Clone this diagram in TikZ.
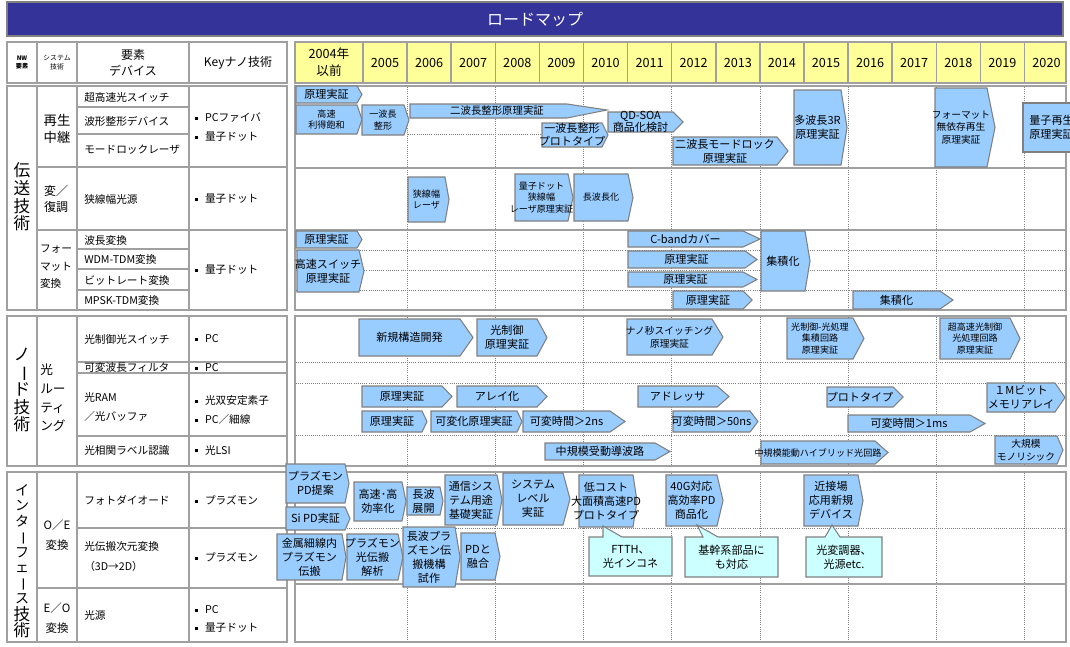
\documentclass[tikz,border=0pt]{standalone}
\usepackage{fontspec}
\setmainfont{Noto Sans CJK JP}
\definecolor{titleblue}{HTML}{333399}
\definecolor{hdryellow}{HTML}{FFFF99}
\definecolor{boxfill}{HTML}{99CCFF}
\definecolor{boxline}{HTML}{808080}
\definecolor{callfill}{HTML}{CCFFFF}
\definecolor{gridgray}{HTML}{A0A0A0}
\newcommand{\tightls}{\lineskiplimit=-20pt\relax}
\tikzset{
  abox/.style={draw=boxline, fill=boxfill, line width=0.8pt, line join=miter},
  cbox/.style={draw=boxline, fill=callfill, line width=0.8pt},
  atext/.style={font=\fontsize{8.3}{10.5}\selectfont, align=center, inner sep=0pt},
  mtext/.style={font=\fontsize{7.3}{9.5}\selectfont, align=center, inner sep=0pt},
  stext/.style={font=\fontsize{6.8}{8.6}\selectfont, align=center, inner sep=0pt},
  ltext/.style={font=\fontsize{8}{11}\selectfont, anchor=west, align=left, inner sep=0pt},
  ctext/.style={font=\fontsize{9}{12}\selectfont, align=center, inner sep=0pt},
  vtext/.style={font=\fontsize{12.5}{13.2}\selectfont\tightls, align=center, inner sep=0pt},
  tline/.style={draw=gridgray, line width=1.1pt},
  dline/.style={draw=gray, line width=0.6pt, densely dotted},
  yeartxt/.style={font=\fontsize{9.5}{12}\selectfont, align=center, inner sep=0pt},
}
\newcommand{\arbox}[8][atext]{%
  \draw[abox] (#3,#4) -- ({#5-#7},#4) -- (#5,{(#4+#6)/2}) -- ({#5-#7},#6) -- (#3,#6) -- cycle;
  \node[#1] (#2) at ({(#3+#5-#7)/2},{(#4+#6)/2}) {#8};
}
\newcommand{\callbox}[9]{%
  \draw[cbox] (#2,#3) -- (#7,#3) -- (#6) -- (#8,#3) -- (#4,#3) -- (#4,#5) -- (#2,#5) -- cycle;
  \node[atext] (#1) at ({(#2+#4)/2},{(#3+#5)/2}) {#9};
}
\newcommand{\vchoon}{\rotatebox[origin=c]{-90}{ー}}
\newcommand{\bul}{\raisebox{0.28ex}{\rule{2.3pt}{2.3pt}}\hspace{5pt}}
\begin{document}
\begin{tikzpicture}[x=0.75pt,y=-0.75pt]
\useasboundingbox (0,0) rectangle (1070,646);
\fill[white] (0,0) rectangle (1070,646);
\clip (0,0) rectangle (1070,646);

% title
\draw[fill=titleblue, draw=gray, line width=0.8pt] (7,2) rectangle (1063,36);
\node[text=white, font=\fontsize{12}{14}\selectfont] (title) at (535,19) {ロードマップ};

% ---------------- left table ----------------
\draw[tline] (7,42) rectangle (287,83);
\foreach \x in {37,77,189} \draw[tline] (\x,42) -- (\x,83);
\node[font=\fontsize{4.6}{6}\selectfont\bfseries, align=center, inner sep=0pt] (hnw) at (22,62.5) {NW\\要素};
\node[font=\fontsize{5.2}{7}\selectfont, align=center, inner sep=0pt] (hsys) at (57,62.5) {システム\\技術};
\node[ctext] (hdev) at (133,63) {要素\\デバイス};
\node[ctext] (hkey) at (238,63) {Keyナノ技術};

% section 1
\draw[tline] (7,86) rectangle (287,310);
\foreach \x in {37,77,189} \draw[tline] (\x,86) -- (\x,310);
\draw[tline] (77,107) -- (189,107);
\draw[tline] (77,134) -- (189,134);
\draw[tline] (37,167) -- (287,167);
\draw[tline] (37,230) -- (287,230);
\draw[tline] (77,249) -- (189,249);
\draw[tline] (77,269) -- (189,269);
\draw[tline] (77,290) -- (189,290);
% section 2
\draw[tline] (7,316) rectangle (287,466);
\foreach \x in {37,77,189} \draw[tline] (\x,316) -- (\x,466);
\draw[tline] (77,362) -- (287,362);
\draw[tline] (77,373) -- (287,373);
\draw[tline] (77,436) -- (287,436);
% section 3
\draw[tline] (7,472) rectangle (287,642);
\foreach \x in {37,77,189} \draw[tline] (\x,472) -- (\x,642);
\draw[tline] (77,528) -- (287,528);
\draw[tline] (37,588) -- (287,588);

% column 1 vertical titles
\node[vtext] (s1) at (22,197) {伝\\送\\技\\術};
\node[vtext] (s2) at (22,390) {ノ\\\vchoon\\ド\\技\\術};
\node[vtext, font=\fontsize{10.5}{11.55}\selectfont\tightls] (s3) at (22,544) {イ\\ン\\タ\\\vchoon\\フ\\ェ\\\vchoon\\ス};
\node[vtext, font=\fontsize{12.5}{12.4}\selectfont\tightls] (s3b) at (22,622) {技\\術};

% column 2
\node[font=\fontsize{10}{13}\selectfont, align=center, inner sep=0pt] (g1) at (57,129) {再生\\中継};
\node[font=\fontsize{9}{11.5}\selectfont, align=left, inner sep=0pt] (g2) at (56,199) {変／\\復調};
\node[font=\fontsize{8}{13}\selectfont, align=left, inner sep=0pt] (g3) at (56,267) {フォー\\マット\\変換};
\node[font=\fontsize{9.5}{14}\selectfont, align=left, inner sep=0pt, anchor=west] (g4) at (40,398) {光\\ルー\\ティ\\ング};
\node[font=\fontsize{8.6}{15}\selectfont, align=center, inner sep=0pt] (g5) at (57,535) {O／E\\変換};
\node[font=\fontsize{8.6}{15}\selectfont, align=center, inner sep=0pt] (g6) at (57,618) {E／O\\変換};

% column 3
\node[ltext] (d01) at (84,97) {超高速光スイッチ};
\node[ltext] (d02) at (84,121) {波形整形デバイス};
\node[ltext] (d03) at (84,150) {モードロックレーザ};
\node[ltext] (d04) at (84,199) {狭線幅光源};
\node[ltext] (d05) at (84,240) {波長変換};
\node[ltext] (d06) at (84,259.5) {WDM-TDM変換};
\node[ltext] (d07) at (84,280) {ビットレート変換};
\node[ltext] (d08) at (84,300) {MPSK-TDM変換};
\node[ltext] (d09) at (84,339) {光制御光スイッチ};
\node[ltext] (d10) at (84,367.5) {可変波長フィルタ};
\node[ltext, font=\fontsize{8}{14}\selectfont] (d11) at (84,407) {光RAM\\／光バッファ};
\node[ltext] (d12) at (84,450) {光相関ラベル認識};
\node[ltext] (d13) at (84,500) {フォトダイオード};
\node[ltext, font=\fontsize{8}{15}\selectfont] (d14) at (84,557) {光伝搬次元変換\\（3D→2D）};
\node[ltext] (d15) at (84,615) {光源};

% column 4
\node[ltext, font=\fontsize{8}{14}\selectfont] (k1) at (195,127) {\bul PCファイバ\\\bul 量子ドット};
\node[ltext] (k2) at (195,199) {\bul 量子ドット};
\node[ltext] (k3) at (195,270) {\bul 量子ドット};
\node[ltext] (k4) at (195,339) {\bul PC};
\node[ltext] (k5) at (195,367.5) {\bul PC};
\node[ltext, font=\fontsize{8}{14}\selectfont] (k6) at (195,410) {\bul 光双安定素子\\\bul PC／細線};
\node[ltext] (k7) at (195,450) {\bul 光LSI};
\node[ltext] (k8) at (195,500) {\bul プラズモン};
\node[ltext] (k9) at (195,557) {\bul プラズモン};
\node[ltext, font=\fontsize{8}{14}\selectfont] (k10) at (195,619) {\bul PC\\\bul 量子ドット};

% ---------------- timeline ----------------
\draw[tline, fill=hdryellow] (295,42) rectangle (1066,83);
\foreach \k in {0,...,15} \draw[tline] ({363+44.1*\k},42) -- ({363+44.1*\k},83);
\node[yeartxt, font=\fontsize{9.5}{13}\selectfont] (y2004) at (329,62.5) {2004年\\以前};
\foreach \y [count=\i from 0] in {2005,...,2020}
  \node[yeartxt] (y\y) at ({363+44.1*\i+22},62.5) {\y};

% section frames
\draw[tline] (295,86) rectangle (1066,310);
\draw[tline] (295,316) rectangle (1066,466);
\draw[tline] (295,472) rectangle (1066,642);
% grid
\foreach \k in {1,3,...,15} {
  \draw[dline] ({363+44.1*\k},87) -- ({363+44.1*\k},309);
  \draw[dline] ({363+44.1*\k},317) -- ({363+44.1*\k},465);
  \draw[dline] ({363+44.1*\k},473) -- ({363+44.1*\k},641);
}
\draw[tline] (295,168) -- (1066,168);
\draw[tline] (295,230) -- (1066,230);
\draw[dline] (408,134) -- (542,134);
\foreach \yy in {250,270,290} \draw[dline] (296,\yy) -- (1065,\yy);
\foreach \yy in {362,383,435} \draw[dline] (296,\yy) -- (1065,\yy);
\draw[dline] (296,528) -- (1065,528);
\draw[tline] (295,584) -- (1066,584);

% ---- section 1 boxes ----
\arbox{b1}{296}{86}{362}{103}{5}{原理実証}
\arbox[stext]{b2}{296}{105}{362}{134}{5}{高速\\利得飽和}
\arbox[stext]{b3}{362}{105}{409}{135}{5}{一波長\\整形}
\draw[abox] (410,104) -- (567,104) -- (607,110) -- (567,118) -- (410,118) -- cycle;
\node[atext, font=\fontsize{7.8}{9}\selectfont] (b4) at (497,111) {二波長整形原理実証};
\arbox[atext, font=\fontsize{8.3}{9}\selectfont]{b5}{608}{112}{683}{132}{10}{QD-SOA\\商品化検討}
\arbox[atext, font=\fontsize{8.3}{9.8}\selectfont]{b6}{542}{123}{608}{147}{6}{一波長整形\\プロトタイプ}
\arbox{b7}{673}{137}{788}{165}{11}{二波長モードロック\\原理実証}
\arbox{b8}{794}{90}{847}{165}{6}{多波長3R\\原理実証}
\arbox[mtext]{b9}{935}{88}{995}{167}{8}{フォーマット\\無依存再生\\原理実証}
\arbox{b10}{1023}{103}{1080}{152}{0}{量子再生\\原理実証}
\arbox[stext]{b11}{408}{177}{449}{222}{4}{狭線幅\\レーザ}
\arbox[stext]{b12}{515}{174}{573}{221}{5}{量子ドット\\狭線幅\\レーザ原理実証}
\arbox[stext]{b13}{574}{174}{633}{221}{5}{長波長化}
\arbox{b14}{296}{231}{362}{248}{5}{原理実証}
\arbox{b15}{297}{250}{364}{292}{5}{高速スイッチ\\原理実証}
\arbox{b16}{628}{231}{760}{247}{17}{C-bandカバー}
\arbox{b17}{628}{251}{757}{268}{12}{原理実証}
\arbox{b18}{628}{272}{757}{287}{14}{原理実証}
\arbox{b19}{673}{291}{752}{309}{9}{原理実証}
\arbox{b20}{761}{231}{810}{291}{5}{集積化}
\arbox{b21}{853}{291}{953}{309}{13}{集積化}

% ---- section 2 boxes ----
\arbox{c1}{359}{319}{473}{356}{13}{新規構造開発}
\arbox{c2}{477}{319}{547}{356}{10}{光制御\\原理実証}
\arbox[mtext]{c3}{627}{319}{723}{355}{11}{ナノ秒スイッチング\\原理実証}
\arbox[stext]{c4}{787}{318}{864}{359}{11}{光制御-光処理\\集積回路\\原理実証}
\arbox[stext]{c5}{940}{318}{1020}{359}{10}{超高速光制御\\光処理回路\\原理実証}
\arbox{c6}{362}{386}{452}{407}{10}{原理実証}
\arbox{c7}{457}{386}{547}{407}{10}{アレイ化}
\arbox{c8}{638}{386}{729}{407}{12}{アドレッサ}
\arbox{c9}{827}{387}{903}{407}{10}{プロトタイプ}
\arbox{c10}{987}{383}{1065}{412}{10}{１Mビット\\メモリアレイ}
\arbox{c11}{362}{411}{427}{432}{5}{原理実証}
\arbox{c12}{431}{411}{522}{432}{5}{可変化原理実証}
\arbox{c13}{523}{411}{625}{432}{15}{可変時間＞2ns}
\arbox{c14}{673}{411}{758}{432}{8}{可変時間＞50ns}
\arbox{c15}{848}{415}{985}{432}{15}{可変時間＞1ms}
\arbox{c16}{545}{443}{670}{460}{15}{中規模受動導波路}
\arbox[stext]{c17}{761}{441}{888}{464}{13}{中規模能動ハイブリッド光回路}
\arbox[mtext]{c18}{995}{436}{1063}{464}{6}{大規模\\モノリシック}

% ---- section 3 boxes ----
\arbox{d1}{286}{464}{349}{503}{4}{プラズモン\\PD提案}
\arbox{d2}{286}{507}{350}{530}{5}{Si PD実証}
\arbox{d3}{277}{534}{346}{580}{4}{金属細線内\\プラズモン\\伝搬}
\arbox{d4}{347}{534}{403}{580}{5}{プラズモン\\光伝搬\\解析}
\arbox{d5}{354}{482}{406}{521}{4}{高速･高\\効率化}
\arbox{d6}{407}{487}{443}{515}{3}{長波\\展開}
\arbox{d7}{445}{475}{502}{525}{5}{通信シス\\テム用途\\基礎実証}
\arbox{d8}{503}{473}{570}{525}{7}{システム\\レベル\\実証}
\arbox{d9}{403}{527}{460}{587}{5}{長波プラ\\ズモン伝\\搬機構\\試作}
\arbox{d10}{461}{533}{500}{580}{5}{PDと\\融合}
\arbox{d11}{579}{475}{637}{527}{4}{低コスト\\大面積高速PD\\プロトタイプ}
\arbox{d12}{666}{475}{723}{526}{6}{40G対応\\高効率PD\\商品化}
\arbox{d13}{804}{475}{863}{526}{5}{近接場\\応用新規\\デバイス}
\callbox{e1}{589}{537}{672}{576}{603,526}{603}{622}{FTTH、\\光インコネ}
\callbox{e2}{685}{537}{778}{577}{697,525}{703}{718}{基幹系部品に\\も対応}
\callbox{e3}{806}{537}{882}{577}{832,525}{825}{840}{光変調器、\\光源etc.}
\end{tikzpicture}
\end{document}
